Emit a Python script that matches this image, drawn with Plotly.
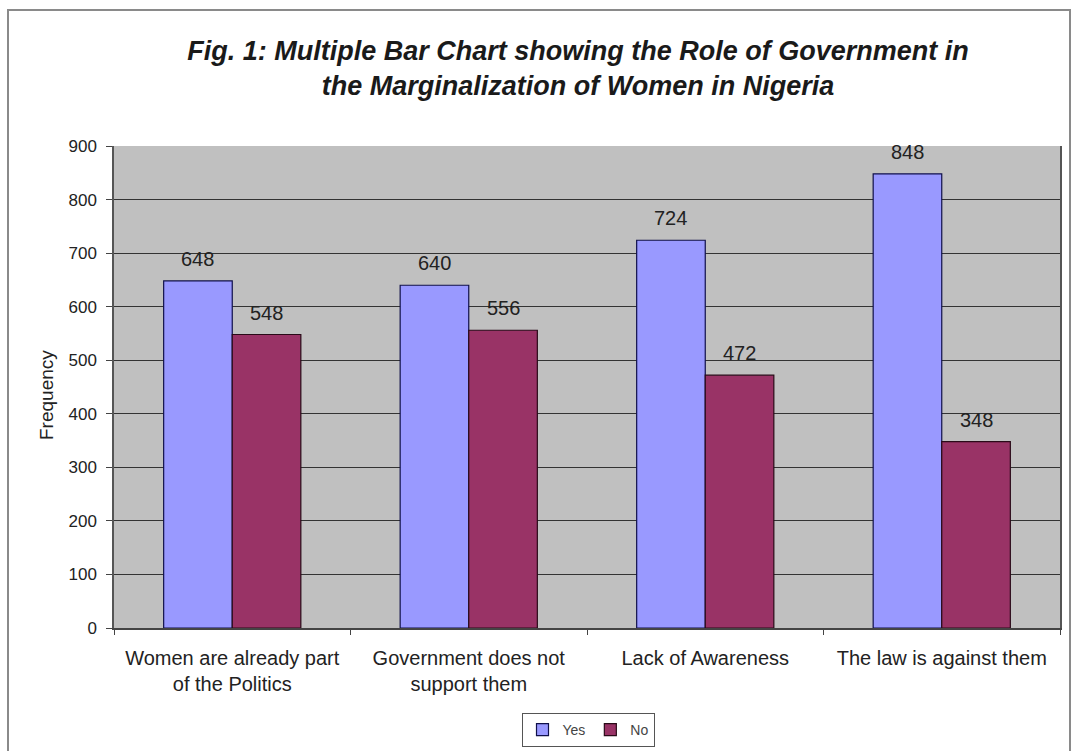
import plotly.graph_objects as go

# Survey responses on the role of government
categories = [
    "Women are already part<br>of the Politics",
    "Government does not<br>support them",
    "Lack of Awareness",
    "The law is against them",
]
yes_values = [648, 640, 724, 848]
no_values = [548, 556, 472, 348]
y_ticks = [0, 100, 200, 300, 400, 500, 600, 700, 800, 900]

YES_COLOR = "#9999FF"
NO_COLOR = "#993366"
FONT = "Liberation Sans, Arial, sans-serif"

fig = go.Figure()
fig.add_trace(go.Bar(
    name="Yes", x=categories, y=yes_values,
    marker=dict(color=YES_COLOR, line=dict(color="#10104a", width=1.2)),
))
fig.add_trace(go.Bar(
    name="No", x=categories, y=no_values,
    marker=dict(color=NO_COLOR, line=dict(color="#2a0a18", width=1.2)),
))

# Value labels above each bar
for i, cat in enumerate(categories):
    for offset, val in ((-0.5, yes_values[i]), (0.5, no_values[i])):
        fig.add_annotation(
            x=i + offset * 0.29, y=val, xref="x", yref="y",
            text=str(val), showarrow=False, yshift=22,
            font=dict(family=FONT, size=20, color="#222222"),
        )

# Rotated axis title sitting over the tick labels
fig.add_annotation(
    x=(46 - 114) / 946, y=(628 - 395) / 482, xref="paper", yref="paper",
    xanchor="center", yanchor="middle",
    text="Frequency", textangle=-90, showarrow=False,
    font=dict(family=FONT, size=19, color="#222222"),
)

# Outer chart frame
fig.add_shape(
    type="rect", xref="paper", yref="paper",
    x0=(8 - 114) / 946, x1=(1070 - 114) / 946,
    y0=(628 - 780) / 482, y1=(628 - 10) / 482,
    line=dict(color="#8a8a8a", width=2), fillcolor="rgba(0,0,0,0)",
    layer="below",
)

fig.update_layout(
    width=1072, height=751,
    margin=dict(l=114, r=12, t=146, b=123, autoexpand=False),
    paper_bgcolor="white",
    plot_bgcolor="#C0C0C0",
    barmode="group", bargap=0.42, bargroupgap=0,
    title=dict(
        text="<b><i>Fig. 1: Multiple Bar Chart showing the Role of Government in<br>"
             "the Marginalization of Women in Nigeria</i></b>",
        x=578 / 1072, xanchor="center", y=1 - 60 / 751, yanchor="middle",
        font=dict(family=FONT, size=27, color="#1a1a1a"),
    ),
    legend=dict(
        orientation="h", x=(588 - 114) / 946, xanchor="center",
        y=(628 - 713) / 482, yanchor="top",
        bordercolor="#555555", borderwidth=1, bgcolor="white",
        font=dict(family=FONT, size=14, color="#444444"),
        itemwidth=30,
    ),
    showlegend=True,
    xaxis=dict(
        tickson="boundaries", ticks="outside", ticklen=5, tickcolor="#444444",
        showline=True, linecolor="#444444", linewidth=1.5,
        tickfont=dict(family=FONT, size=20, color="#222222"),
        ticklabelstandoff=11,
        showgrid=False,
    ),
    yaxis=dict(
        range=[0, 900], tickvals=y_ticks,
        ticks="outside", ticklen=6, tickcolor="#444444",
        showline=True, linecolor="#555555", linewidth=1.5, mirror=True,
        showgrid=True, gridcolor="#333333", gridwidth=1,
        tickfont=dict(family=FONT, size=17, color="#222222"),
        ticklabelstandoff=6,
        zeroline=False,
    ),
)

fig.write_html("out.html")
